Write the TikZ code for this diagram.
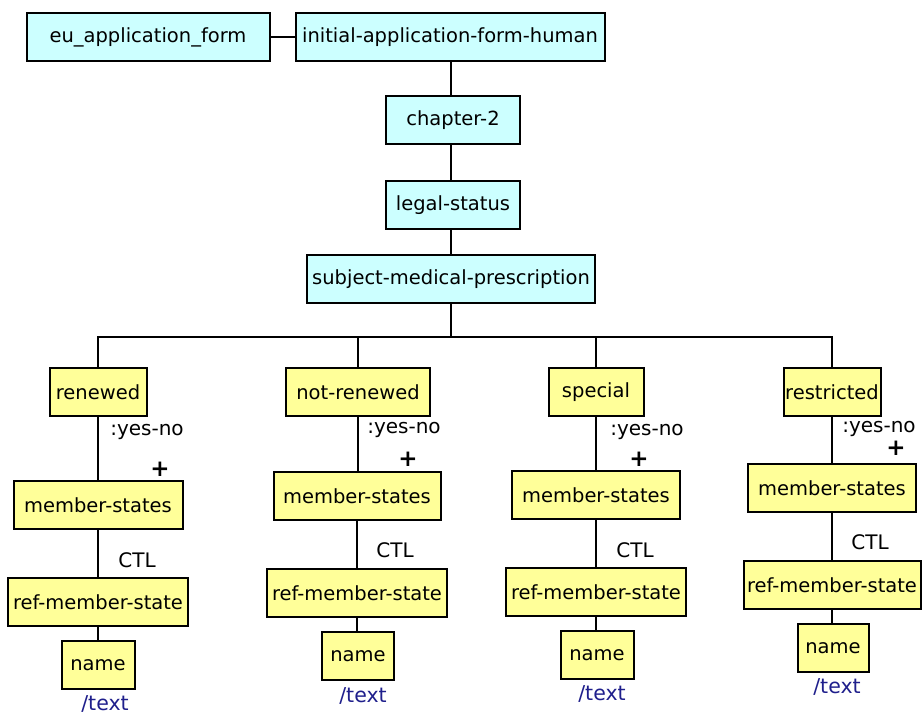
\documentclass[tikz,border=0pt]{standalone}
\usepackage{fontspec}
\setmainfont{DejaVu Sans}
\definecolor{cyanbox}{HTML}{CCFFFF}
\definecolor{yellowbox}{HTML}{FFFF99}
\definecolor{navytext}{HTML}{1F1F8C}
\begin{document}
\begin{tikzpicture}[x=1pt,y=-1pt,
  every node/.style={font=\fontsize{19.5}{22}\selectfont},
  boxc/.style={draw, line width=2pt, fill=cyanbox, minimum height=48pt, inner sep=0pt},
  boxy/.style={draw, line width=2pt, fill=yellowbox, minimum height=48pt, inner sep=0pt},
  lbl/.style={inner sep=0pt, font=\fontsize{20}{22}\selectfont},
  plus/.style={inner sep=0pt, font=\fontsize{23}{23}\selectfont\bfseries},
  txt/.style={inner sep=0pt, text=navytext, font=\fontsize{20.5}{22}\selectfont},
  conn/.style={line width=2pt}]
\useasboundingbox (0,0) rectangle (922,715);
\fill[white] (0,0) rectangle (922,715);
% top
\node[boxc, minimum width=243pt] (eu) at (148,37) {eu\_application\_form};
\node[boxc, minimum width=309pt] (init) at (450,37) {initial-application-form-human};
\node[boxc, minimum width=134pt] (ch) at (453,120) {chapter-2};
\node[boxc, minimum width=134pt] (ls) at (453,205) {legal-status};
\node[boxc, minimum width=288pt] (smp) at (451,279) {subject-medical-prescription};
% level 2
\node[boxy, minimum width=97pt] (r1) at (98,392) {renewed};
\node[boxy, minimum width=144pt] (r2) at (358,392) {not-renewed};
\node[boxy, minimum width=95pt] (r3) at (596,392) {special};
\node[boxy, minimum width=97pt] (r4) at (832,392) {restricted};
% member-states
\node[boxy, minimum width=169pt] (m1) at (98,505) {member-states};
\node[boxy, minimum width=167pt] (m2) at (357,496) {member-states};
\node[boxy, minimum width=168pt] (m3) at (596,495) {member-states};
\node[boxy, minimum width=168pt] (m4) at (832,488) {member-states};
% ref-member-state
\node[boxy, minimum width=180pt] (f1) at (98,602) {ref-member-state};
\node[boxy, minimum width=180pt] (f2) at (357,593) {ref-member-state};
\node[boxy, minimum width=180pt] (f3) at (596,592) {ref-member-state};
\node[boxy, minimum width=177pt] (f4) at (832,585) {ref-member-state};
% name
\node[boxy, minimum width=73pt] (n1) at (98,665) {name};
\node[boxy, minimum width=72pt] (n2) at (358,656) {name};
\node[boxy, minimum width=73pt] (n3) at (597,655) {name};
\node[boxy, minimum width=71pt] (n4) at (833,648) {name};
% /text
\node[txt] (t1) at (105,704) {/text};
\node[txt] (t2) at (363,696) {/text};
\node[txt] (t3) at (602,694) {/text};
\node[txt] (t4) at (837,687) {/text};
% labels
\node[lbl] (y1) at (147,432) {:yes-no};
\node[lbl] (y2) at (404,430) {:yes-no};
\node[lbl] (y3) at (647,432) {:yes-no};
\node[lbl] (y4) at (879,429) {:yes-no};
\node[plus] (p1) at (160,469) {+};
\node[plus] (p2) at (408,459) {+};
\node[plus] (p3) at (639,459) {+};
\node[plus] (p4) at (896,448) {+};
\node[lbl] (c1) at (137,560) {CTL};
\node[lbl] (c2) at (395,550) {CTL};
\node[lbl] (c3) at (635,550) {CTL};
\node[lbl] (c4) at (870,542) {CTL};
% connectors
\draw[conn] (eu.east) -- (init.west);
\draw[conn] (init.south -| smp.south) -- (ch.north -| smp.south);
\draw[conn] (ch.south -| smp.south) -- (ls.north -| smp.south);
\draw[conn] (ls.south -| smp.south) -- (smp.north);
\coordinate (bus) at (451,337);
\draw[conn] (smp.south) -- (bus);
\draw[conn] (r1.north) -- (r1.north |- bus) -- (r4.north |- bus) -- (r4.north);
\draw[conn] (r2.north |- bus) -- (r2.north);
\draw[conn] (r3.north |- bus) -- (r3.north);
\foreach \i in {1,2,3,4}{
  \draw[conn] (r\i.south) -- (r\i.south |- m\i.north);
  \draw[conn] (m\i.south) -- (m\i.south |- f\i.north);
  \draw[conn] (f\i.south) -- (f\i.south |- n\i.north);
}
\end{tikzpicture}
\end{document}
